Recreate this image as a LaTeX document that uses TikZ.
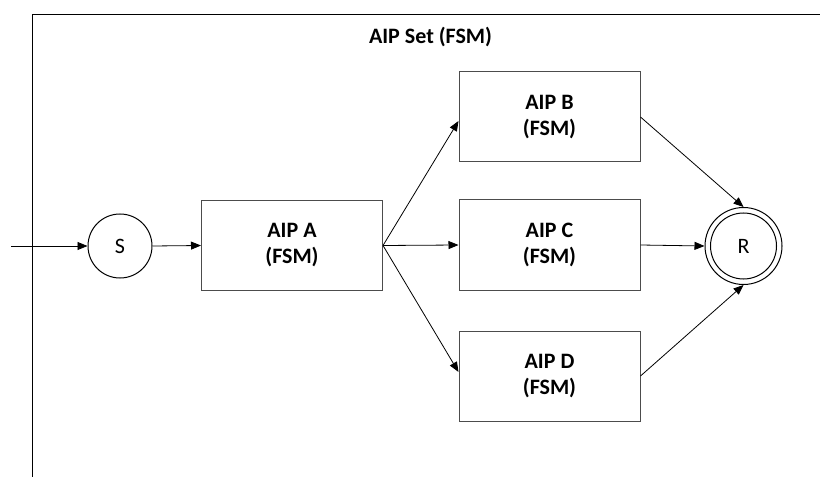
\documentclass[tikz,border=0pt]{standalone}
\usepackage{fontspec}
\setmainfont{Carlito}
\usetikzlibrary{arrows.meta}
\begin{document}
\begin{tikzpicture}[x=0.75pt,y=-0.75pt,
  line width=0.75pt,
  aip/.style={draw=black!70, rectangle, minimum width=135.75pt, minimum height=67.5pt,
              align=center, inner sep=0pt, font=\fontsize{16.5}{19.5}\selectfont\bfseries},
  state/.style={draw, circle, inner sep=0pt, font=\fontsize{16.5}{19.5}\selectfont},
  arr/.style={-{Triangle[length=7.5pt,width=6pt]}, line width=0.6pt}
]
\useasboundingbox (0,0) rectangle (820,477);
% frame
\coordinate (fb) at (32,477);
\coordinate (fc) at (32,15);
\coordinate (fr) at (820,15);
\draw (fb) -- (fc) -- (fr);
\node[font=\fontsize{16.5}{19.5}\selectfont\bfseries] (title) at (430.5,37) {AIP Set (FSM)};
% nodes
\node[state, minimum size=48pt] (S) at (120,246) {S};
\node[aip] (A) at (292,245.5) {AIP A\\(FSM)};
\node[aip] (B) at (549.5,117) {AIP B\\(FSM)};
\node[aip] (C) at (549.5,245) {AIP C\\(FSM)};
\node[aip] (D) at (549.5,376) {AIP D\\(FSM)};
\node[state, minimum size=57.75pt] (R) at (743.5,246) {R};
\draw (R.center) circle[radius=24.75pt];
\coordinate (in) at (11,246);
% connectors
\draw[arr] (in) -- (S.west);
\draw[arr] (S.east) -- (A.west);
\draw[arr] (A.east) -- ([yshift=-3pt]B.west);
\draw[arr] (A.east) -- (C.west);
\draw[arr] (A.east) -- ([yshift=3pt]D.west);
\draw[arr] (B.east) -- (R.north);
\draw[arr] (C.east) -- (R.west);
\draw[arr] (D.east) -- (R.south);
\end{tikzpicture}
\end{document}
